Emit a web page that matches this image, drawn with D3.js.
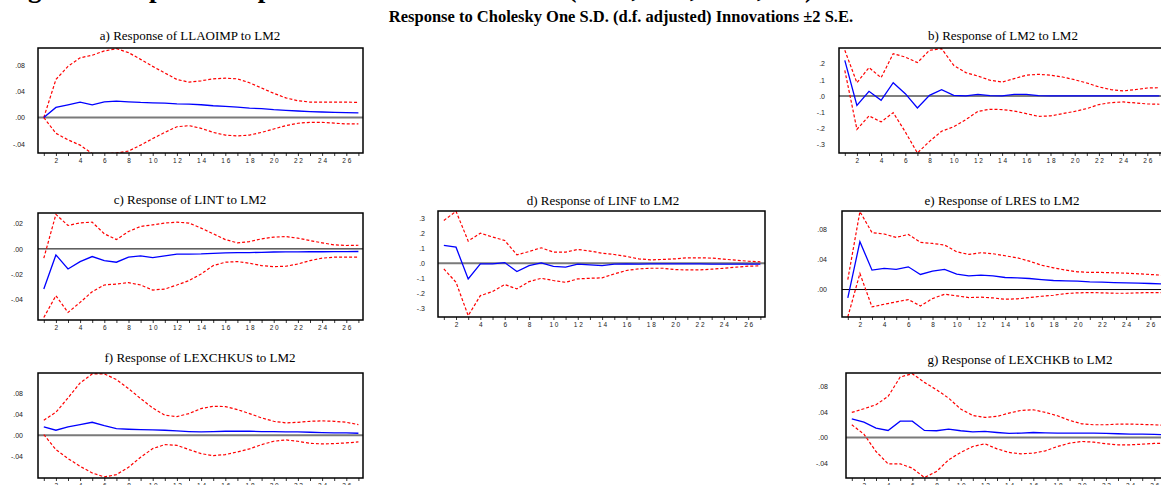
<!DOCTYPE html>
<html><head><meta charset="utf-8">
<script src="https://cdn.jsdelivr.net/npm/d3@7"></script>
<style>body{margin:0;background:#fff}svg{display:block}</style>
</head><body>
<svg id="c" width="1161" height="485"></svg>
<script>
const periods = d3.range(1, 28);
const xTickLabels = [2,4,6,8,10,12,14,16,18,20,22,24,26];

const titles = [
  "a) Response of LLAOIMP to LM2",
  "b) Response of LM2 to LM2",
  "c) Response of LINT to LM2",
  "d) Response of LINF to LM2",
  "e) Response of LRES to LM2",
  "f) Response of LEXCHKUS to LM2",
  "g) Response of LEXCHKB to LM2"
];

const yTicksA = [0.08, 0.04, 0, -0.04];
const yTicksB = [0.2, 0.1, 0, -0.1, -0.2, -0.3];
const yTicksC = [0.02, 0, -0.02, -0.04];
const yTicksD = [0.3, 0.2, 0.1, 0, -0.1, -0.2, -0.3];
const yTicksE = [0.08, 0.04, 0];
const yTicksF = [0.08, 0.04, 0, -0.04];
const yTicksG = [0.08, 0.04, 0, -0.04];

// a) LLAOIMP
const respA = [0,0.0154,0.0195,0.0236,0.0195,0.024,0.025,0.024,0.023,0.0225,0.022,0.021,0.0205,0.0195,0.018,0.017,0.016,0.0145,0.0135,0.012,0.011,0.010,0.0092,0.0085,0.008,0.0075,0.007];
const upA = [0,0.058,0.078,0.091,0.095,0.1015,0.105,0.099,0.0887,0.078,0.068,0.058,0.054,0.056,0.059,0.060,0.059,0.053,0.045,0.037,0.030,0.0256,0.0236,0.0236,0.0236,0.0236,0.023];
const loA = [0,-0.024,-0.034,-0.042,-0.055,-0.055,-0.054,-0.051,-0.042,-0.032,-0.0226,-0.014,-0.0123,-0.0164,-0.0226,-0.0267,-0.028,-0.0267,-0.0226,-0.0174,-0.0123,-0.0087,-0.0072,-0.0072,-0.0085,-0.0097,-0.0097];
// b) LM2
const respB = [0.22,-0.058,0.029,-0.027,0.082,0.014,-0.074,0.004,0.039,0.004,0.0,0.01,0.002,0.0,0.01,0.01,0.002,0,0,0,0,0,0,0,0,0,0];
const upB = [0.282,0.082,0.175,0.113,0.261,0.24,0.206,0.282,0.292,0.189,0.144,0.123,0.097,0.086,0.107,0.128,0.134,0.128,0.117,0.10,0.08,0.056,0.039,0.031,0.039,0.049,0.051];
const loB = [0.158,-0.206,-0.123,-0.16,-0.103,-0.222,-0.352,-0.28,-0.218,-0.19,-0.146,-0.095,-0.082,-0.084,-0.093,-0.109,-0.126,-0.123,-0.109,-0.095,-0.078,-0.053,-0.041,-0.037,-0.043,-0.049,-0.051];
// c) LINT
const respC = [-0.0319,-0.0048,-0.016,-0.0101,-0.0061,-0.0093,-0.0106,-0.0066,-0.0056,-0.0069,-0.0056,-0.0042,-0.0042,-0.004,-0.0035,-0.0032,-0.003,-0.003,-0.0027,-0.0025,-0.0024,-0.0024,-0.0023,-0.0023,-0.0022,-0.0022,-0.0021];
const upC = [-0.0074,0.0274,0.0186,0.0207,0.0212,0.012,0.0074,0.0138,0.0178,0.0191,0.0205,0.0212,0.0205,0.0165,0.012,0.0074,0.0048,0.0058,0.008,0.0093,0.0098,0.0085,0.0066,0.0048,0.0032,0.0027,0.0029];
const loC = [-0.0545,-0.0372,-0.0505,-0.0425,-0.034,-0.0287,-0.0279,-0.0268,-0.0287,-0.0327,-0.0319,-0.0287,-0.0252,-0.0199,-0.0133,-0.0106,-0.0101,-0.0114,-0.0133,-0.0141,-0.0138,-0.012,-0.0093,-0.0074,-0.0066,-0.0066,-0.0066];
// d) LINF
const respD = [0.1186,0.107,-0.105,-0.004,-0.004,0.004,-0.056,-0.016,0.002,-0.022,-0.027,-0.007,-0.011,-0.016,-0.007,-0.004,-0.006,-0.004,-0.005,-0.005,-0.005,-0.005,-0.006,-0.006,-0.006,-0.007,-0.007];
const upD = [0.286,0.347,0.148,0.201,0.175,0.152,0.056,0.078,0.103,0.074,0.074,0.092,0.081,0.067,0.058,0.045,0.029,0.022,0.025,0.029,0.036,0.036,0.034,0.027,0.020,0.013,0.009];
const loD = [-0.038,-0.128,-0.351,-0.217,-0.19,-0.143,-0.172,-0.123,-0.101,-0.116,-0.128,-0.105,-0.101,-0.098,-0.072,-0.049,-0.038,-0.034,-0.034,-0.043,-0.045,-0.045,-0.04,-0.034,-0.027,-0.02,-0.018];
// e) LRES
const respE = [-0.011,0.0636,0.0258,0.028,0.0267,0.0302,0.02,0.0244,0.0267,0.0204,0.0182,0.0191,0.0182,0.016,0.0156,0.0147,0.0133,0.012,0.0116,0.0111,0.0102,0.0098,0.0093,0.0089,0.0084,0.008,0.0076];
const upE = [0.0133,0.1036,0.0756,0.0738,0.0693,0.0733,0.0627,0.0613,0.0591,0.0502,0.0467,0.0489,0.0476,0.0449,0.0422,0.0378,0.0324,0.0289,0.0258,0.0236,0.0227,0.0227,0.0222,0.0218,0.0209,0.02,0.0191];
const loE = [-0.0364,0.0213,-0.0231,-0.0196,-0.0164,-0.0133,-0.0218,-0.012,-0.0062,-0.0084,-0.0107,-0.0102,-0.0111,-0.0129,-0.0124,-0.0107,-0.0089,-0.0076,-0.0053,-0.0044,-0.004,-0.0044,-0.0049,-0.0049,-0.0044,-0.004,-0.004];
// f) LEXCHKUS
const respF = [0.0158,0.0095,0.0158,0.0202,0.0246,0.0183,0.0126,0.0114,0.0107,0.0101,0.0095,0.0082,0.007,0.0063,0.007,0.0076,0.0076,0.0076,0.007,0.007,0.0063,0.0063,0.0057,0.0051,0.0044,0.0044,0.0038];
const upF = [0.0284,0.0436,0.0708,0.0992,0.1163,0.1163,0.1056,0.0885,0.0695,0.0518,0.0379,0.0354,0.0411,0.0506,0.055,0.0544,0.0487,0.0411,0.0329,0.0265,0.0234,0.0246,0.0265,0.0272,0.0265,0.0246,0.0202];
const loF = [0.0013,-0.0272,-0.0442,-0.0588,-0.0714,-0.079,-0.0746,-0.0607,-0.0417,-0.0253,-0.0177,-0.019,-0.0272,-0.0348,-0.0386,-0.0367,-0.0316,-0.0259,-0.0177,-0.0114,-0.0088,-0.0114,-0.0152,-0.0164,-0.0158,-0.0145,-0.0126];
// g) LEXCHKB
const respG = [0.0293,0.0241,0.0146,0.011,0.0256,0.0256,0.011,0.0105,0.0131,0.0105,0.0089,0.0094,0.0078,0.0063,0.0068,0.0078,0.0073,0.0068,0.0068,0.0068,0.0068,0.0063,0.0058,0.0052,0.0052,0.0047,0.0042];
const upG = [0.0392,0.045,0.0513,0.0643,0.0947,0.0999,0.0863,0.0748,0.0617,0.0445,0.0345,0.0314,0.033,0.0382,0.0424,0.0434,0.0392,0.034,0.0267,0.0214,0.0199,0.0199,0.0209,0.0209,0.0204,0.0199,0.0188];
const loG = [0.0199,0.0052,-0.022,-0.0413,-0.0413,-0.0481,-0.0628,-0.0533,-0.035,-0.0235,-0.0141,-0.0099,-0.0178,-0.0235,-0.0256,-0.0246,-0.0209,-0.0141,-0.0089,-0.0063,-0.0073,-0.0099,-0.0115,-0.0115,-0.0105,-0.0094,-0.0094];

const svg = d3.select("#c");

// cut-off figure caption at the very top
svg.append("text").attr("x", 4).attr("y", -3)
  .attr("font-family", "'Liberation Serif','Times New Roman',serif")
  .attr("font-weight", "bold").attr("font-size", 27)
  .text("Figure 5: Impulse Response of Variables to LM2 (VAR, Lao, Thai, US)");

svg.append("text").attr("x", 621).attr("y", 22).attr("text-anchor", "middle")
  .attr("font-family", "'Liberation Serif','Times New Roman',serif")
  .attr("font-weight", "bold").attr("font-size", 16.5)
  .text("Response to Cholesky One S.D. (d.f. adjusted) Innovations \u00B12 S.E.");

const panels = [
  {t:0, resp:respA, up:upA, lo:loA, ticks:yTicksA, dom:[-0.054,0.106], box:[38,48,325,105], tx:190, ty:40, zc:"#7a7a7a", zw:2, lx:13, dec:2},
  {t:1, resp:respB, up:upB, lo:loB, ticks:yTicksB, dom:[-0.352,0.296], box:[839,48,325,105], tx:1003, ty:40, zc:"#555", zw:1.6, lx:14, dec:1},
  {t:2, resp:respC, up:upC, lo:loC, ticks:yTicksC, dom:[-0.0565,0.0285], box:[38,213,325,107], tx:190, ty:204, zc:"#000", zw:1, lx:15, dec:2},
  {t:3, resp:respD, up:upD, lo:loD, ticks:yTicksD, dom:[-0.36,0.349], box:[438,211,327,106], tx:603, ty:205, zc:"#7a7a7a", zw:2, lx:13, dec:1},
  {t:4, resp:respE, up:upE, lo:loE, ticks:yTicksE, dom:[-0.0365,0.1044], box:[842,211,325,106], tx:1002, ty:205, zc:"#000", zw:1, lx:15, dec:2},
  {t:5, resp:respF, up:upF, lo:loF, ticks:yTicksF, dom:[-0.081,0.118], box:[38,373,325,105], tx:200, ty:362, zc:"#7a7a7a", zw:2, lx:15, dec:2},
  {t:6, resp:respG, up:upG, lo:loG, ticks:yTicksG, dom:[-0.0635,0.101], box:[846,373,325,105], tx:1020, ty:364, zc:"#7a7a7a", zw:2, lx:18, dec:2}
];

function fmtTick(v, dec) {
  let s = Math.abs(v).toFixed(dec).replace(/^0/, "");
  return (v < 0 ? "-" : "") + s;
}

panels.forEach((p, i) => {
  const [bx, by, bw, bh] = p.box;
  const x = d3.scaleLinear().domain([0.52, 27.38]).range([bx, bx + bw]);
  const y = d3.scaleLinear().domain(p.dom).range([by + bh, by]);
  const g = svg.append("g");

  g.append("text").attr("x", p.tx).attr("y", p.ty).attr("text-anchor", "middle")
    .attr("font-family", "'Liberation Serif','Times New Roman',serif")
    .attr("font-size", 13).text(titles[p.t]);

  const cid = "clip" + i;
  svg.append("clipPath").attr("id", cid).append("rect")
    .attr("x", bx).attr("y", by).attr("width", bw).attr("height", bh);

  // zero line
  g.append("line").attr("x1", bx).attr("x2", bx + bw).attr("y1", y(0)).attr("y2", y(0))
    .attr("stroke", p.zc).attr("stroke-width", p.zw);

  const line = d3.line().x((d, j) => x(periods[j])).y(d => y(d));
  const pg = g.append("g").attr("clip-path", `url(#${cid})`);
  pg.append("path").attr("d", line(p.up)).attr("fill", "none")
    .attr("stroke", "#ff0000").attr("stroke-width", 1.2).attr("stroke-dasharray", "3,2");
  pg.append("path").attr("d", line(p.lo)).attr("fill", "none")
    .attr("stroke", "#ff0000").attr("stroke-width", 1.2).attr("stroke-dasharray", "3,2");
  pg.append("path").attr("d", line(p.resp)).attr("fill", "none")
    .attr("stroke", "#0000ff").attr("stroke-width", 1.3);

  // frame
  g.append("rect").attr("x", bx).attr("y", by).attr("width", bw).attr("height", bh)
    .attr("fill", "none").attr("stroke", "#000").attr("stroke-width", 1.5);

  // y axis labels
  const yAxis = d3.axisLeft(y).tickValues(p.ticks).tickSize(0).tickPadding(p.lx)
    .tickFormat(v => fmtTick(v, p.dec));
  const ya = g.append("g").attr("transform", `translate(${bx},0)`).call(yAxis);
  ya.select(".domain").remove();
  ya.selectAll("text").attr("font-family", "Arial, 'Liberation Sans', sans-serif")
    .attr("font-size", 7).attr("fill", "#222");

  // x axis ticks & labels
  const xAxis = d3.axisBottom(x).tickValues(periods).tickSize(3).tickPadding(2)
    .tickFormat(v => xTickLabels.includes(v) ? String(v).split("").join(" ") : "");
  const xa = g.append("g").attr("transform", `translate(0,${by + bh})`).call(xAxis);
  xa.select(".domain").remove();
  xa.selectAll("line").attr("stroke", "#000").attr("stroke-width", 0.8);
  xa.selectAll("text").attr("font-family", "Arial, 'Liberation Sans', sans-serif")
    .attr("font-size", 6.5).attr("fill", "#222");
});
</script>
</body></html>
